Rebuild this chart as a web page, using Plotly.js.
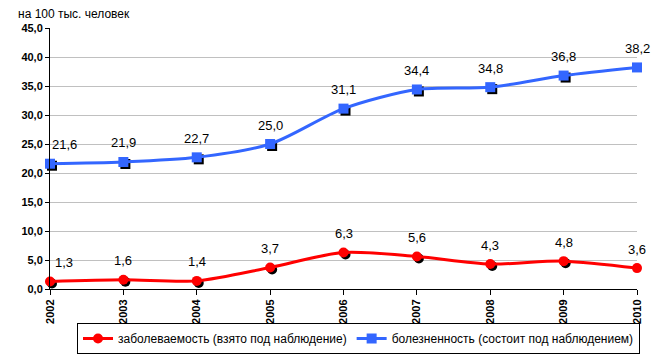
<!DOCTYPE html>
<html><head><meta charset="utf-8">
<script src="https://cdn.plot.ly/plotly-3.0.1.min.js"></script>
<style>html,body{margin:0;padding:0;background:#fff}#chart{width:662px;height:355px}</style>
</head><body><div id="chart"></div>
<script>
const years = ['2002','2003','2004','2005','2006','2007','2008','2009','2010'];
const incidence = [1.3, 1.6, 1.4, 3.7, 6.3, 5.6, 4.3, 4.8, 3.6];
const prevalence = [21.6, 21.9, 22.7, 25.0, 31.1, 34.4, 34.8, 36.8, 38.2];
const incidenceName = 'заболеваемость (взято под наблюдение)';
const prevalenceName = 'болезненность (состоит под наблюдением)';
const unitLabel = 'на 100 тыс. человек';
const yTicks = [0,5,10,15,20,25,30,35,40,45];

const fmt = v => v.toFixed(1).replace('.', ',');
const plotW = 662 - 50 - 25, plotH = 355 - 28 - 66;
const dx = 2 * 8 / plotW, dy = 2 * 45 / plotH;

const shadow = (y, sym) => ({
  x: years, y: y, xaxis: 'x', yaxis: 'y', mode: 'markers', showlegend: false, hoverinfo: 'skip',
  marker: {symbol: sym, size: 10, color: '#000'}, cliponaxis: false
});
const traces = [
  shadow(incidence, 'circle'),
  shadow(prevalence, 'square'),
  {x: years, y: incidence, xaxis: 'x2', yaxis: 'y2', name: incidenceName, mode: 'lines+markers',
   line: {color: '#ff0000', width: 3, shape: 'spline', smoothing: 0.8},
   marker: {symbol: 'circle', size: 10, color: '#ff0000'}, cliponaxis: false},
  {x: years, y: prevalence, xaxis: 'x2', yaxis: 'y2', name: prevalenceName, mode: 'lines+markers',
   line: {color: '#3366ff', width: 3, shape: 'spline', smoothing: 0.8},
   marker: {symbol: 'square', size: 10, color: '#3366ff'}, cliponaxis: false}
];

const annotations = [];
[incidence, prevalence].forEach(arr => arr.forEach((v, i) => {
  annotations.push({x: i, y: v, xref: 'x2', yref: 'y2', text: fmt(v), showarrow: false,
    yshift: 19, xshift: i === 0 ? 14 : 0, font: {family: 'Arial', size: 13, color: '#000'}});
}));

const layout = {
  width: 662, height: 355,
  margin: {l: 50, r: 25, t: 28, b: 66},
  paper_bgcolor: '#fff', plot_bgcolor: '#fff',
  separators: ', ',
  title: {text: unitLabel, x: 18/662, xref: 'container', xanchor: 'left', y: 1 - 14/355, yref: 'container', yanchor: 'middle',
    font: {family: 'Arial', size: 12, color: '#000'}},
  xaxis: {type: 'category', range: [-dx, 8 - dx], visible: false, fixedrange: true},
  yaxis: {range: [dy, 45 + dy], visible: false, fixedrange: true},
  xaxis2: {type: 'category', overlaying: 'x', range: [0, 8], showgrid: false, showline: true, linecolor: '#000', linewidth: 1,
    ticks: 'outside', ticklen: 5, tickcolor: '#000', tickangle: -90, zeroline: false, automargin: false,
    tickfont: {family: 'Arial', size: 11, color: '#000', weight: 'bold'}},
  yaxis2: {overlaying: 'y', range: [0, 45], tickvals: yTicks, tickformat: '.1f', showgrid: true, gridcolor: '#c0c0c0', gridwidth: 1,
    showline: true, linecolor: '#000', linewidth: 1, ticks: 'outside', ticklen: 4, tickcolor: '#000', zeroline: false, automargin: false,
    tickfont: {family: 'Arial', size: 11, color: '#000', weight: 'bold'}},
  legend: {orientation: 'h', xref: 'container', yref: 'container', x: 77/662, y: 1 - 323/355, xanchor: 'left', yanchor: 'top',
    bordercolor: '#000', borderwidth: 1, font: {family: 'Arial', size: 12, color: '#000'}, tracegroupgap: 0},
  annotations: annotations,
  showlegend: true
};
Plotly.newPlot('chart', traces, layout, {displayModeBar: false, staticPlot: true});
</script></body></html>
